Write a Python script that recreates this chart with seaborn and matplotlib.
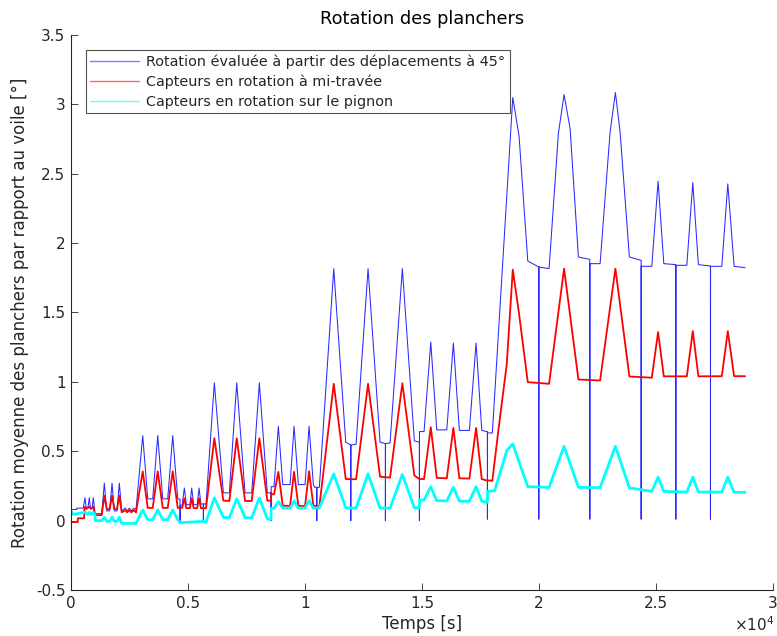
import numpy as np
import pandas as pd
import matplotlib
matplotlib.use("Agg")
import matplotlib.pyplot as plt
import seaborn as sns

# --- data (time in s, rotation in deg) ---
t_blue = [0, 244, 250, 520, 598, 650, 720, 782, 830, 900, 953, 1000, 1026, 1312, 1423, 1526,
          1650, 1752, 1850, 1966, 2064, 2167, 2321, 2400, 2491, 2580, 2679, 2778, 3064, 3278,
          3491, 3705, 3919, 4132, 4346, 4560, 4620, 4658, 4660, 4665, 4750, 4842, 4930, 5080,
          5158, 5240, 5390, 5470, 5550, 5654, 5656, 5660, 5769, 6124, 6509, 6765, 7081, 7436,
          7722, 8047, 8389, 8547, 8549, 8553, 8675, 8859, 9047, 9359, 9530, 9714, 10000, 10171,
          10355, 10420, 10500, 10502, 10506, 10611, 11226, 11739, 11953, 11955, 11959, 12180,
          12692, 13205, 13432, 13434, 13438, 13632, 14158, 14671, 14885, 14887, 14891, 15085,
          15372, 15628, 16056, 16338, 16594, 17021, 17308, 17551, 17765, 17791, 17793, 17797,
          18004, 18688, 18876, 19145, 19517, 19987, 19989, 19993, 20427, 20825, 21068, 21325,
          21680, 22167, 22169, 22173, 22607, 23034, 23261, 23462, 23859, 24359, 24361, 24365,
          24816, 25085, 25329, 25842, 25844, 25848, 26312, 26568, 26808, 27321, 27323, 27327,
          27808, 28064, 28333, 28803]
v_blue = [0.08, 0.08, 0.09, 0.09, 0.165, 0.09, 0.09, 0.165, 0.09, 0.09, 0.165, 0.09, 0.05, 0.05,
          0.27, 0.07, 0.07, 0.27, 0.07, 0.07, 0.27, 0.07, 0.09, 0.07, 0.09, 0.07, 0.09, 0.08,
          0.613, 0.157, 0.157, 0.613, 0.157, 0.157, 0.613, 0.157, 0.155, 0.155, 0.0, 0.11, 0.11,
          0.235, 0.115, 0.115, 0.235, 0.115, 0.115, 0.235, 0.12, 0.12, 0.0, 0.12, 0.12, 0.993,
          0.2, 0.2, 0.993, 0.2, 0.2, 0.993, 0.2, 0.2, 0.0, 0.245, 0.245, 0.68, 0.26, 0.26, 0.68,
          0.26, 0.26, 0.68, 0.257, 0.24, 0.24, 0.0, 0.24, 0.24, 1.816, 0.565, 0.545, 0.0, 0.545,
          0.55, 1.816, 0.565, 0.555, 0.0, 0.555, 0.56, 1.816, 0.575, 0.565, 0.0, 0.642, 0.642,
          1.287, 0.654, 0.654, 1.28, 0.65, 0.65, 1.28, 0.65, 0.642, 0.642, 0.01, 0.632, 0.632,
          2.525, 3.05, 2.77, 1.871, 1.828, 0.01, 1.828, 1.816, 2.79, 3.071, 2.826, 1.9, 1.883,
          0.01, 1.852, 1.852, 2.80, 3.085, 2.80, 1.9, 1.876, 0.01, 1.833, 1.833, 2.446, 1.852,
          1.845, 0.01, 1.84, 1.84, 2.436, 1.845, 1.835, 0.01, 1.833, 1.833, 2.427, 1.833, 1.823]

t_red = [0, 286, 290, 560, 570, 598, 650, 782, 853, 953, 1026, 1312, 1423, 1526, 1650, 1752,
         1850, 1966, 2064, 2167, 2321, 2400, 2491, 2580, 2679, 2778, 3064, 3278, 3491, 3705,
         3919, 4132, 4346, 4560, 4750, 4842, 4930, 5080, 5158, 5240, 5390, 5470, 5550, 5769,
         6124, 6509, 6765, 7081, 7436, 7722, 8047, 8389, 8547, 8553, 8675, 8859, 9047, 9359,
         9530, 9714, 10000, 10171, 10355, 10611, 11226, 11739, 12180, 12692, 13205, 13632,
         14158, 14671, 14885, 15085, 15372, 15628, 16056, 16338, 16594, 17021, 17308, 17551,
         17765, 17906, 18000, 18261, 18620, 18876, 19145, 19517, 20427, 21068, 21680, 22607,
         23261, 23859, 24816, 25085, 25329, 26312, 26568, 26808, 27808, 28064, 28333, 28803]
v_red = [-0.01, -0.01, 0.017, 0.017, 0.084, 0.1, 0.084, 0.1, 0.084, 0.1, 0.04, 0.04, 0.18, 0.084,
         0.084, 0.18, 0.084, 0.084, 0.18, 0.06, 0.075, 0.06, 0.075, 0.06, 0.075, 0.06, 0.355,
         0.092, 0.092, 0.355, 0.092, 0.092, 0.355, 0.092, 0.092, 0.16, 0.09, 0.09, 0.161, 0.09,
         0.09, 0.161, 0.09, 0.09, 0.594, 0.144, 0.142, 0.594, 0.142, 0.142, 0.594, 0.144, 0.144,
         0.19, 0.19, 0.352, 0.108, 0.106, 0.352, 0.106, 0.106, 0.356, 0.108, 0.101, 0.986, 0.30,
         0.298, 0.986, 0.317, 0.31, 0.99, 0.325, 0.30, 0.30, 0.673, 0.308, 0.305, 0.668, 0.305,
         0.303, 0.668, 0.30, 0.289, 0.29, 0.286, 0.65, 1.13, 1.809, 1.49, 0.998, 0.986, 1.816,
         1.017, 1.01, 1.816, 1.039, 1.03, 1.359, 1.04, 1.04, 1.366, 1.04, 1.041, 1.366, 1.041,
         1.041]

t_cyan = [0, 100, 598, 700, 782, 870, 953, 1026, 1040, 1312, 1423, 1526, 1650, 1752, 1850, 1966,
          2064, 2167, 2778, 3064, 3278, 3491, 3705, 3919, 4132, 4346, 4560, 4660, 5654, 5769,
          6124, 6509, 6765, 7081, 7436, 7722, 8047, 8389, 8547, 8553, 8675, 8859, 9047, 9359,
          9530, 9714, 10000, 10171, 10355, 10611, 11226, 11739, 12180, 12692, 13205, 13632,
          14158, 14671, 14885, 14891, 15085, 15372, 15628, 16056, 16338, 16594, 17021, 17308,
          17551, 17765, 17791, 17797, 18100, 18400, 18620, 18876, 19517, 20427, 21068, 21680,
          22607, 23261, 23859, 24816, 25085, 25329, 26312, 26568, 26808, 27808, 28064, 28333,
          28803]
v_cyan = [0.07, 0.045, 0.06, 0.045, 0.06, 0.045, 0.06, 0.04, 0.0, 0.0, 0.024, -0.005, -0.005,
          0.024, -0.005, -0.005, 0.024, -0.02, -0.02, 0.077, 0.007, 0.007, 0.077, 0.007, 0.007,
          0.077, 0.007, -0.015, -0.005, -0.01, 0.164, 0.024, 0.022, 0.157, 0.022, 0.02, 0.164,
          0.012, 0.01, 0.089, 0.089, 0.137, 0.09, 0.09, 0.14, 0.09, 0.09, 0.145, 0.09, 0.092,
          0.337, 0.092, 0.09, 0.337, 0.09, 0.09, 0.333, 0.092, 0.092, 0.149, 0.149, 0.245, 0.144,
          0.142, 0.241, 0.14, 0.14, 0.245, 0.14, 0.132, 0.132, 0.211, 0.215, 0.38, 0.505, 0.553,
          0.245, 0.24, 0.536, 0.24, 0.238, 0.535, 0.236, 0.211, 0.313, 0.211, 0.206, 0.313, 0.206,
          0.206, 0.313, 0.204, 0.204]

labels = ["Rotation évaluée à partir des déplacements à 45°",
          "Capteurs en rotation à mi-travée",
          "Capteurs en rotation sur le pignon"]
x_ticks = [0, 5000, 10000, 15000, 20000, 25000, 30000]
x_ticklabels = ["0", "0.5", "1", "1.5", "2", "2.5", "3"]
y_ticks = [-0.5, 0, 0.5, 1, 1.5, 2, 2.5, 3, 3.5]

sns.set_theme(style="white")
plt.rcParams['font.family'] = ['DejaVu Sans']
plt.rcParams['mathtext.fontset'] = 'dejavusans'

fig, ax = plt.subplots(figsize=(7.77, 6.36), dpi=100)
fig.subplots_adjust(left=0.0914, right=0.995, top=0.945, bottom=0.0723)

df_b = pd.DataFrame({"t": t_blue, "v": v_blue})
df_r = pd.DataFrame({"t": t_red, "v": v_red})
df_c = pd.DataFrame({"t": t_cyan, "v": v_cyan})

sns.lineplot(data=df_b, x="t", y="v", ax=ax, color="#2a2aff", linewidth=0.75,
             estimator=None, sort=False, label=labels[0])
sns.lineplot(data=df_r, x="t", y="v", ax=ax, color="#ff0000", linewidth=1.3,
             estimator=None, sort=False, label=labels[1])
sns.lineplot(data=df_c, x="t", y="v", ax=ax, color="#00ffff", linewidth=2.0,
             estimator=None, sort=False, label=labels[2])

ax.set_xlim(0, 30000)
ax.set_ylim(-0.5, 3.5)
ax.set_xticks(x_ticks)
ax.set_xticklabels(x_ticklabels)
ax.set_yticks(y_ticks)
ax.set_yticklabels([f"{y:g}" for y in y_ticks])

for side in ["top", "right"]:
    ax.spines[side].set_visible(False)
for side in ["left", "bottom"]:
    ax.spines[side].set_color("#262626")
    ax.spines[side].set_linewidth(0.8)
ax.tick_params(direction="in", length=5, width=0.6, colors="#262626",
               labelsize=11, left=True, bottom=True, pad=4)

ax.set_title("Rotation des planchers", fontsize=12.8, color="black", pad=8)
ax.set_xlabel("Temps [s]", fontsize=12, color="#262626", labelpad=3)
ax.set_ylabel("Rotation moyenne des planchers par rapport au voile [°]",
              fontsize=12, color="#262626", labelpad=5)

fig.text(0.997, 0.003, r"$\times10^{4}$", ha="right", va="bottom",
         fontsize=11, color="#262626")

leg = ax.legend(loc="upper left", bbox_to_anchor=(0.021, 0.973), borderaxespad=0,
                fontsize=10.4, frameon=True, fancybox=False, handlelength=3.4,
                borderpad=0.3, labelspacing=0.4, handletextpad=0.5)
leg.get_frame().set_edgecolor("#262626")
leg.get_frame().set_linewidth(0.8)
for line in leg.get_lines():
    line.set_linewidth(1.0)
    line.set_alpha(0.6)

fig.savefig("out.png", dpi=100)
